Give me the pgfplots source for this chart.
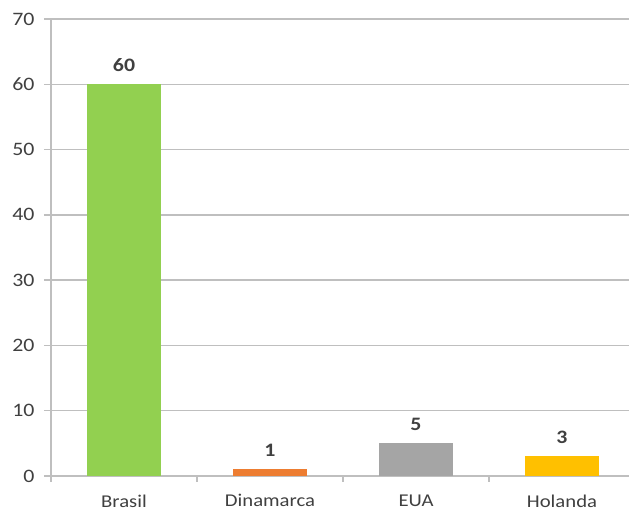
\documentclass[border=0pt]{standalone}
\usepackage{fontspec}
\setmainfont{Carlito}[FakeStretch=1.15]
\usepackage{pgfplots}
\pgfplotsset{compat=1.18}
\definecolor{cgreen}{HTML}{92D050}
\definecolor{corange}{HTML}{ED7D31}
\definecolor{cgray}{HTML}{A5A5A5}
\definecolor{cyellow}{HTML}{FFC000}
\definecolor{cgrid}{HTML}{BFBFBF}
\definecolor{ctick}{HTML}{404040}
\definecolor{clabel}{HTML}{404040}
\begin{document}
\begin{tikzpicture}
\path[use as bounding box] (-51pt,-35pt) rectangle (578pt,476pt);
\clip (-51pt,-35pt) rectangle (578pt,476pt);
\begin{axis}[
  at={(0pt,0pt)}, anchor=south west,
  scale only axis, width=584pt, height=457pt,
  xmin=-0.5, xmax=3.5, ymin=0, ymax=70,
  ytick distance=10,
  ymajorgrids, grid style={draw=cgrid, line width=1.3pt},
  axis lines*=left,
  axis line style={draw=cgrid, line width=1.3pt},
  tick style={draw=cgrid, line width=1.3pt},
  tick align=outside,
  major tick length=7pt, minor tick length=6pt,
  xtick={0,1,2,3},
  xticklabels={Brasil,Dinamarca,EUA,Holanda},
  minor xtick={-0.5,0.5,1.5,2.5},
  xtick style={draw=none},
  minor x tick style={draw=cgrid, line width=1.3pt},
  /pgf/number format/assume math mode=true,
  ticklabel style={text=ctick},
  y tick label style={font=\fontsize{19}{22}\selectfont, xshift=-6pt},
  x tick label style={font=\fontsize{18}{21}\selectfont, yshift=-8pt},
  ybar, bar width=74pt, bar shift=0pt,
  nodes near coords,
  nodes near coords style={font=\bfseries\fontsize{19}{22}\selectfont, text=clabel, yshift=9pt},
  every axis plot/.append style={draw=none},
]
\addplot[fill=cgreen] coordinates {(0,60)};
\addplot[fill=corange] coordinates {(1,1)};
\addplot[fill=cgray] coordinates {(2,5)};
\addplot[fill=cyellow] coordinates {(3,3)};
\end{axis}
\end{tikzpicture}
\end{document}
